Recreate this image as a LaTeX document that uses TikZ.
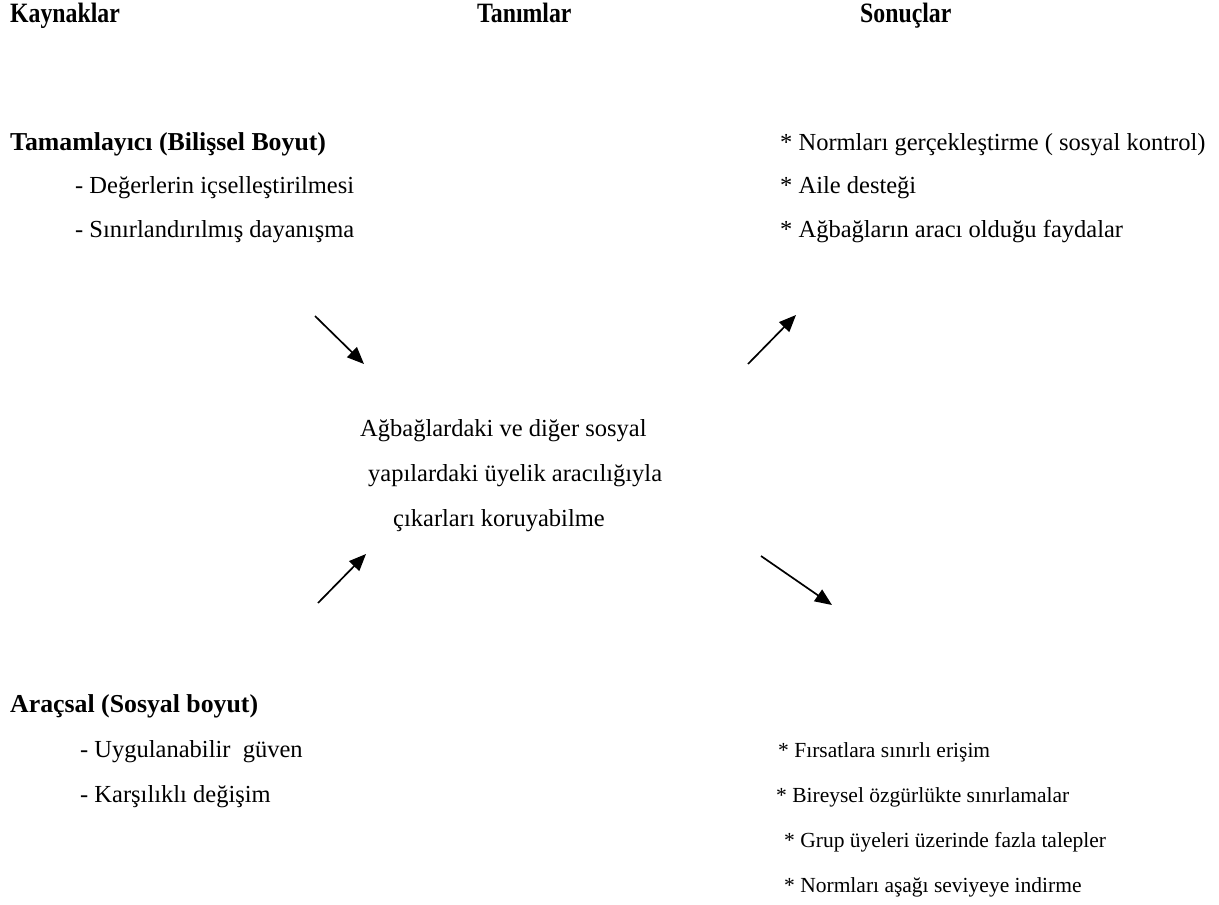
\documentclass[tikz,border=0pt]{standalone}
\usepackage{fontspec}
\setmainfont{Liberation Serif}
\usetikzlibrary{arrows.meta}
\tikzset{
  txt/.style={anchor=base west, inner sep=0pt, font=\fontsize{24.5}{28}\selectfont},
  txts/.style={anchor=base west, inner sep=0pt, font=\fontsize{21.5}{25}\selectfont},
  head/.style={anchor=base west, inner sep=0pt, font=\fontsize{28}{30}\selectfont\bfseries, xscale=0.85},
  sub/.style={anchor=base west, inner sep=0pt, font=\fontsize{25.8}{28}\selectfont\bfseries},
  arr/.style={line width=1.7pt, -{Triangle[length=17pt,width=14pt]}}
}
\begin{document}
\begin{tikzpicture}[x=1pt,y=-1pt]
\useasboundingbox (0,0) rectangle (1219,905);
% headers
\node[head] (h1) at (10,22) {Kaynaklar};
\node[head] (h2) at (477,22) {Tanımlar};
\node[head] (h3) at (860,22) {Sonuçlar};
% top-left
\node[sub] (tl) at (10,150) {Tamamlayıcı (Bilişsel Boyut)};
\node[txt] (tl1) at (75,193) {- Değerlerin içselleştirilmesi};
\node[txt] (tl2) at (75,237) {- Sınırlandırılmış dayanışma};
% top-right
\node[txt] (tr1) at (780,150) {* Normları gerçekleştirme ( sosyal kontrol)};
\node[txt] (tr2) at (780,193) {* Aile desteği};
\node[txt] (tr3) at (780,237) {* Ağbağların aracı olduğu faydalar};
% center
\node[txt] (c1) at (360,436) {Ağbağlardaki ve diğer sosyal};
\node[txt] (c2) at (368,481) {yapılardaki üyelik aracılığıyla};
\node[txt] (c3) at (393,526) {çıkarları koruyabilme};
% bottom-left
\node[sub] (bl) at (10,712) {Araçsal (Sosyal boyut)};
\node[txt] (bl1) at (80,757) {- Uygulanabilir\ \ güven};
\node[txt] (bl2) at (80,802) {- Karşılıklı değişim};
% bottom-right
\node[txts] (br1) at (778,757) {* Fırsatlara sınırlı erişim};
\node[txts] (br2) at (776,802) {* Bireysel özgürlükte sınırlamalar};
\node[txts] (br3) at (784,847) {* Grup üyeleri üzerinde fazla talepler};
\node[txts] (br4) at (784,892) {* Normları aşağı seviyeye indirme};
% arrows
\coordinate (a1s) at (315,316); \coordinate (a1e) at (364,364);
\coordinate (a2s) at (748,364); \coordinate (a2e) at (796,315);
\coordinate (a3s) at (318,603); \coordinate (a3e) at (366,554);
\coordinate (a4s) at (761,556); \coordinate (a4e) at (832,605);
\draw[arr] (a1s) -- (a1e);
\draw[arr] (a2s) -- (a2e);
\draw[arr] (a3s) -- (a3e);
\draw[arr] (a4s) -- (a4e);
\end{tikzpicture}
\end{document}
